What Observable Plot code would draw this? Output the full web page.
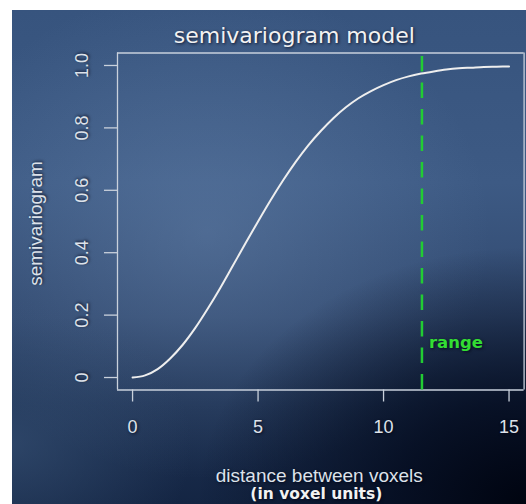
<!DOCTYPE html>
<html>
<head>
<meta charset="utf-8">
<script src="https://cdn.jsdelivr.net/npm/d3@7"></script>
<script src="https://cdn.jsdelivr.net/npm/@observablehq/plot@0.6"></script>
<style>
  html, body { margin: 0; padding: 0; background: #ffffff; }
  #bg {
    position: absolute; left: 12px; top: 10px; width: 514px; height: 494px;
    background:
      radial-gradient(ellipse 80% 65% at 100% 100%, rgba(0,4,16,1) 0%, rgba(3,10,28,0.8) 32%, rgba(10,20,45,0) 80%),
      radial-gradient(ellipse 35% 30% at 0% 88%, rgba(60,88,125,0.55) 0%, rgba(60,88,125,0) 100%),
      radial-gradient(ellipse 55% 50% at 38% 45%, rgba(115,145,185,0.38) 0%, rgba(115,145,185,0) 100%),
      linear-gradient(to bottom, #37547e 0%, #3d5a84 35%, #31496f 62%, #1d3152 80%, #142543 100%);
  }
  #chart { position: absolute; left: 0; top: 0; }
  #chart svg text { text-shadow: 1px 1px 3px rgba(0,0,20,0.75); }
</style>
</head>
<body>
<div id="bg"></div>
<div id="chart"></div>
<script>
// distance between voxels (in voxel units)
const distance = [0, 0.5, 1, 1.5, 2, 2.5, 3, 3.5, 4, 4.5, 5, 5.5, 6, 6.5, 7, 7.5,
                  8, 8.5, 9, 9.5, 10, 10.5, 11, 11.5, 12, 12.5, 13, 13.5, 14, 14.5, 15];
// semivariogram values
const gamma = [0, 0.007, 0.027, 0.061, 0.105, 0.159, 0.221, 0.288, 0.359, 0.430, 0.500,
               0.568, 0.632, 0.691, 0.744, 0.790, 0.831, 0.866, 0.895, 0.918, 0.937,
               0.953, 0.965, 0.974, 0.981, 0.987, 0.991, 0.993, 0.995, 0.996, 0.997];
const rangeDistance = 11.53;
const rangeLabel = ["range"];
const xTicks = [0, 5, 10, 15];
const yTicks = [0, 0.2, 0.4, 0.6, 0.8, 1.0];
const yTickLabels = ["0", "0.2", "0.4", "0.6", "0.8", "1.0"];
const title = ["semivariogram model"];
const yLabel = ["semivariogram"];
const xLabel1 = ["distance between voxels"];
const xLabel2 = ["(in voxel units)"];

const curve = distance.map((d, i) => ({d, g: gamma[i]}));
const boxColor = "#c9d1dc";
const textColor = "#dde2ea";
const sans = "Liberation Sans, Arial, sans-serif";
const round = "DejaVu Sans, sans-serif";

const chart = Plot.plot({
  width: 526,
  height: 504,
  marginLeft: 117,
  marginRight: 2.4,
  marginTop: 52.5,
  marginBottom: 114.5,
  style: {background: "transparent", color: textColor, overflow: "visible"},
  x: {domain: [-0.6, 15.6], range: [117, 523.6]},
  y: {domain: [-0.04, 1.04], range: [389.5, 52.5]},
  marks: [
    Plot.ruleY([-0.04, 1.04], {stroke: boxColor, strokeWidth: 1.3}),
    Plot.ruleX([-0.6, 15.6], {stroke: boxColor, strokeWidth: 1.3}),
    Plot.axisX({ticks: xTicks, tickSize: 12, tickPadding: 18.5, stroke: boxColor, strokeWidth: 1.3,
                fontSize: 18, fontFamily: sans, fill: textColor, label: null}),
    Plot.axisY({ticks: yTicks, tickSize: 13, stroke: boxColor, strokeWidth: 1.3, fill: "none", label: null}),
    Plot.text(yTicks, {y: d => d, text: (d, i) => yTickLabels[i], frameAnchor: "left", rotate: -90,
                       textAnchor: "middle", lineAnchor: "middle", dx: -35, fontSize: 18,
                       fontFamily: sans, fill: textColor}),
    Plot.line(curve, {x: "d", y: "g", stroke: "#eeeeee", strokeWidth: 2, curve: "monotone-x"}),
    Plot.ruleX([rangeDistance], {y1: () => -0.04, y2: () => 1.04, stroke: "#22cc33", strokeWidth: 2.5,
                                 strokeDasharray: "15.5,11"}),
    Plot.text(rangeLabel, {x: () => rangeDistance, y: () => 0.094, text: d => d, textAnchor: "start",
                           lineAnchor: "bottom", dx: 7, fill: "#33dd33", fontSize: 16.5,
                           fontFamily: round, fontWeight: "bold"}),
    Plot.text(title, {text: d => d, frameAnchor: "top", lineAnchor: "bottom", dx: -26.5, dy: -10.5,
                      fontSize: 22, fontFamily: round, fill: "#f2f2f2"}),
    Plot.text(yLabel, {text: d => d, frameAnchor: "left", rotate: -90, textAnchor: "middle",
                       lineAnchor: "bottom", dx: -75.5, dy: 2, fontSize: 19, fontFamily: sans,
                       fill: textColor}),
    Plot.text(xLabel1, {text: d => d, frameAnchor: "bottom", lineAnchor: "bottom", dx: -1.5, dy: 92.2,
                        fontSize: 19, fontFamily: sans, fill: textColor}),
    Plot.text(xLabel2, {text: d => d, frameAnchor: "bottom", lineAnchor: "bottom", dx: -4.5, dy: 108.5,
                        fontSize: 15.5, fontFamily: round, fontWeight: "bold", fill: "#f2f2f2"})
  ]
});
document.getElementById("chart").appendChild(chart);
</script>
</body>
</html>
